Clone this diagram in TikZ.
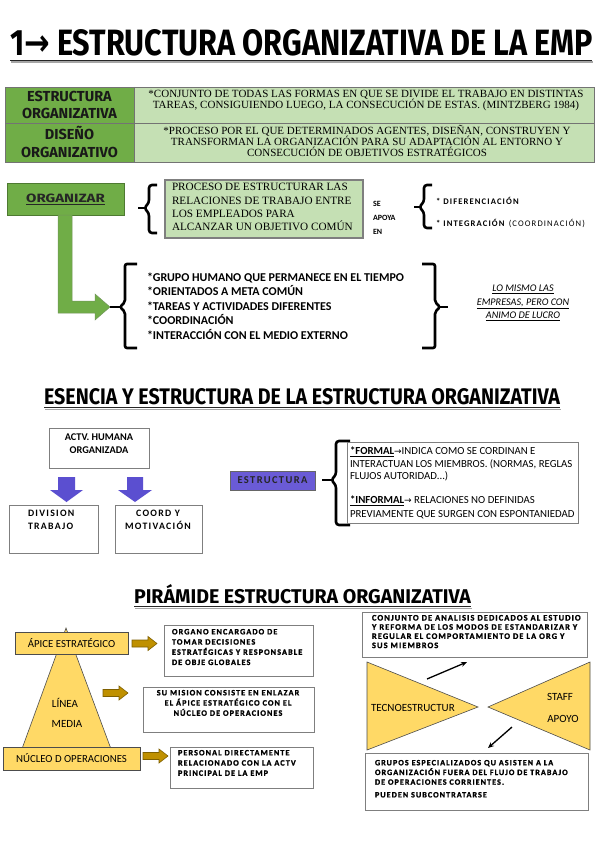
\documentclass[tikz,border=0pt]{standalone}
\usepackage{graphicx}
\usepackage{fontspec}
\setmainfont{Carlito}
\newfontfamily\serifc{Liberation Serif}
\newfontfamily\brush{Fira Sans}
\newfontfamily\dejavu{DejaVu Sans}
\newfontfamily\spaced{Carlito}[LetterSpace=13]
\newfontfamily\heavyf{Carlito}[LetterSpace=13, BoldFeatures={FakeBold=1.4}]
\usetikzlibrary{arrows.meta}
\definecolor{dgreen}{HTML}{70AD47}
\definecolor{dgreenb}{HTML}{4E7A31}
\definecolor{lgreen}{HTML}{C5E0B4}
\definecolor{ypyr}{HTML}{FFD966}
\definecolor{goldar}{HTML}{BF9000}
\definecolor{goldarb}{HTML}{7F6000}
\definecolor{bluear}{HTML}{5B4FD0}
\definecolor{bluebox}{HTML}{6A5BD6}
\definecolor{boxgray}{HTML}{7F7F7F}
\tikzset{
  wbox/.style={draw=boxgray, line width=1pt, fill=white},
  brk/.style={line width=2.6pt, line join=miter},
  ybox/.style={fill=ypyr, draw=black!70, line width=0.6pt, font=\fontsize{10.8}{12}\selectfont},
  ytxt/.style={font=\fontsize{11}{12}\selectfont},
  garrow/.style={fill=goldar, draw=goldarb, line width=0.6pt},
  heavy/.style={font=\heavyf\bfseries\fontsize{8.2}{10.2}\selectfont, align=left},
  ulineb/.style={line width=1.6pt, black!35},
  ulinef/.style={line width=1.6pt, black!85},
  tleft/.style={font=\brush\bfseries\fontsize{14.5}{17.5}\selectfont, align=center, text=black!90},
  tright/.style={font=\serifc\fontsize{11}{11.4}\selectfont, align=center},
}
\begin{document}
\begin{tikzpicture}[x=1pt,y=-1pt, every node/.style={inner sep=0pt, outer sep=0pt}]
\useasboundingbox (0,0) rectangle (599,848);
\fill[white] (0,0) rectangle (599,848);

% ---------- title ----------
\node[anchor=base west] (title) at (10,56) {\resizebox{583pt}{26pt}{\brush\bfseries 1{\dejavu\bfseries →} ESTRUCTURA ORGANIZATIVA DE LA EMP}};
\draw[ulineb] (11,62.3) -- (593,62.3);
\draw[ulinef] (10,60.5) -- (592,60.5);

% ---------- table ----------
\fill[dgreen] (5,87) rectangle (134,162);
\fill[lgreen] (134,87) rectangle (594,162);
\draw[black!55, line width=0.8pt] (5,87) rectangle (594,162) (5,123) -- (594,123) (134,87) -- (134,162);
\node[tleft] (c11) at (69.5,105) {ESTRUCTURA\\ORGANIZATIVA};
\node[tleft] (c21) at (69.5,142) {DISEÑO\\ORGANIZATIVO};
\node[tright] (c12) at (366,100.5) {*CONJUNTO DE TODAS LAS FORMAS EN QUE SE DIVIDE EL TRABAJO EN DISTINTAS\\TAREAS, CONSIGUIENDO LUEGO, LA CONSECUCIÓN DE ESTAS. (MINTZBERG 1984)};
\node[tright] (c22) at (367,141) {*PROCESO POR EL QUE DETERMINADOS AGENTES, DISEÑAN, CONSTRUYEN Y\\TRANSFORMAN LA ORGANIZACIÓN PARA SU ADAPTACIÓN AL ENTORNO Y\\CONSECUCIÓN DE OBJETIVOS ESTRATÉGICOS};

% ---------- organizar ----------
\node[fill=dgreen, draw=dgreenb, line width=0.8pt, minimum width=117pt, minimum height=32pt, text=black!85] (org) at (65.5,199) {\scalebox{1.25}[1]{\brush\bfseries\fontsize{12}{14}\selectfont\underline{ORGANIZAR}}};
\filldraw[fill=dgreen, draw=dgreenb!80, line width=0.5pt] (58,215) -- (72,215) -- (72,301) -- (95,301) -- (95,294) -- (110,307) -- (95,320) -- (95,313) -- (58,313) -- cycle;

\node[fill=lgreen, draw=boxgray, line width=1.2pt, minimum width=198pt, minimum height=58pt] (proc) at (264,209) {};
\node[anchor=west, align=left, font=\serifc\fontsize{11.2}{13.2}\selectfont] (proctxt) at (172,207) {PROCESO DE ESTRUCTURAR LAS\\RELACIONES DE TRABAJO ENTRE\\LOS EMPLEADOS PARA\\ALCANZAR UN OBJETIVO COMÚN};
\draw[brk, rounded corners=3pt] (157,185) -- (149,185) -- (149,203) -- (144,208) -- (149,213) -- (149,233) -- (157,233);
\draw[brk] (145,208) -- (138,208);

\node[anchor=west, align=left, font=\bfseries\fontsize{8}{14}\selectfont] (apoya) at (373,218) {SE\\APOYA\\EN};
\draw[brk, rounded corners=3pt] (432,185) -- (424,185) -- (424,202) -- (419,207) -- (424,212) -- (424,228) -- (432,228);
\draw[brk] (420,207) -- (414,207);
\node[anchor=west, font=\spaced\bfseries\fontsize{8.6}{10}\selectfont] (dif) at (436,201) {* DIFERENCIACIÓN};
\node[anchor=west, font=\spaced\fontsize{8.6}{10}\selectfont] (integ) at (436,223) {\textbf{* INTEGRACIÓN} (COORDINACIÓN)};

% list with brackets
\node[anchor=north west, align=left, font=\bfseries\fontsize{12}{14.5}\selectfont] (list) at (147,272.5) {*GRUPO HUMANO QUE PERMANECE EN EL TIEMPO\\*ORIENTADOS A META COMÚN\\*TAREAS Y ACTIVIDADES DIFERENTES\\*COORDINACIÓN\\*INTERACCIÓN CON EL MEDIO EXTERNO};
\draw[brk, rounded corners=2pt] (137,264) -- (125,264) -- (125,302) -- (120,307) -- (125,312) -- (125,348) -- (137,348);
\draw[brk] (121,307) -- (110,307);
\draw[brk, rounded corners=2pt] (422,264) -- (435,264) -- (435,302) -- (440,307) -- (435,312) -- (435,348) -- (422,348);
\draw[brk] (439,307) -- (448,307);
\node[align=center, font=\itshape\fontsize{10.2}{13.5}\selectfont] (lucro) at (523,303) {\underline{LO MISMO LAS}\\\underline{EMPRESAS, PERO CON}\\\underline{ANIMO DE LUCRO}};

% ---------- section 2 ----------
\node[anchor=base west] (t2) at (44,404) {\resizebox{516pt}{16pt}{\brush\bfseries ESENCIA Y ESTRUCTURA DE LA ESTRUCTURA ORGANIZATIVA}};
\draw[ulineb] (45,409.3) -- (561,409.3);
\draw[ulinef] (44,407.5) -- (560,407.5);

\node[wbox, minimum width=100pt, minimum height=40pt] (actv) at (99,448) {};
\node[align=center, font=\bfseries\fontsize{10.3}{13}\selectfont] (actvt) at (99,443.5) {ACTV. HUMANA\\ORGANIZADA};
\fill[bluear] (58,477) -- (75,477) -- (75,490) -- (83,490) -- (66.5,502) -- (50,490) -- (58,490) -- cycle;
\fill[bluear] (127,477) -- (143,477) -- (143,490) -- (152,490) -- (135,502) -- (118,490) -- (127,490) -- cycle;
\node[wbox, minimum width=89pt, minimum height=48pt] (divb) at (53.5,529) {};
\node[anchor=north west, align=left, font=\spaced\bfseries\fontsize{9.8}{13}\selectfont] (divt) at (28,510) {DIVISION\\TRABAJO};
\node[wbox, minimum width=87pt, minimum height=48pt] (coordb) at (158.5,529) {};
\node[anchor=north, align=center, font=\spaced\bfseries\fontsize{9.8}{13}\selectfont] (coordt) at (158,510) {COORD Y\\MOTIVACIÓN};

\node[fill=bluebox, draw=black!60, line width=0.8pt, minimum width=85pt, minimum height=19pt, font=\spaced\bfseries\fontsize{10.5}{11}\selectfont, text=black!85] (estr) at (272.5,480.5) {ESTRUCTURA};
\draw[brk, rounded corners=3pt] (350,441) -- (336,441) -- (336,475) -- (331,480) -- (336,485) -- (336,525) -- (350,525);
\draw[brk] (332,480) -- (322,480);
\node[wbox, minimum width=231pt, minimum height=81pt] (formal) at (462.5,482.5) {};
\node[anchor=north west, align=left, font=\fontsize{10.8}{12.5}\selectfont] (formalt) at (350,447) {\textbf{\underline{*FORMAL}}{\dejavu\fontsize{9}{9}\selectfont →}INDICA COMO SE CORDINAN E\\INTERACTUAN LOS MIEMBROS. (NORMAS, REGLAS\\FLUJOS AUTORIDAD...)\\[11pt]\textbf{\underline{*INFORMAL}}{\dejavu\fontsize{9}{9}\selectfont →} RELACIONES NO DEFINIDAS\\[1.5pt]PREVIAMENTE QUE SURGEN CON ESPONTANIEDAD};

% ---------- section 3 ----------
\node[anchor=base west] (t3) at (134,603) {\resizebox{337pt}{19pt}{\brush\bfseries PIRÁMIDE ESTRUCTURA ORGANIZATIVA}};
\draw[ulineb] (135,608.3) -- (472,608.3);
\draw[ulinef] (134,606.5) -- (471,606.5);

\filldraw[fill=ypyr, draw=black!70, line width=0.6pt] (66,628) -- (114,757) -- (19,757) -- cycle;
\node[ybox, minimum width=113pt, minimum height=22pt] (apice) at (71.5,643) {ÁPICE ESTRATÉGICO};
\node[ybox, minimum width=137pt, minimum height=23pt] (nucleo) at (71.5,758.5) {NÚCLEO D OPERACIONES};
\node[ytxt] (linea) at (65,703) {LÍNEA};
\node[ytxt] (media) at (67,724) {MEDIA};

\filldraw[garrow] (132,640) -- (148,640) -- (148,636.5) -- (157,643.5) -- (148,650.5) -- (148,647) -- (132,647) -- cycle;
\filldraw[garrow] (103,689.5) -- (119,689.5) -- (119,686) -- (128,693) -- (119,700) -- (119,696.5) -- (103,696.5) -- cycle;
\filldraw[garrow] (143,752.5) -- (159,752.5) -- (159,749) -- (168,756) -- (159,763) -- (159,759.5) -- (143,759.5) -- cycle;

\node[wbox, minimum width=149pt, minimum height=51pt] (box1) at (238.5,650.5) {};
\node[heavy, anchor=north west] (box1t) at (172,629) {ORGANO ENCARGADO DE\\TOMAR DECISIONES\\ESTRATÉGICAS Y RESPONSABLE\\DE OBJE GLOBALES};
\node[wbox, minimum width=171pt, minimum height=45pt] (box2) at (228.5,709.5) {};
\node[heavy, align=center, anchor=north] (box2t) at (228,690) {SU MISION CONSISTE EN ENLAZAR\\EL ÁPICE ESTRATÉGICO CON EL\\NÚCLEO DE OPERACIONES};
\node[wbox, minimum width=143pt, minimum height=41pt] (box3) at (241.5,767.5) {};
\node[heavy, anchor=north west] (box3t) at (178,750) {PERSONAL DIRECTAMENTE\\RELACIONADO CON LA ACTV\\PRINCIPAL DE LA EMP};

% right part
\node[wbox, minimum width=225pt, minimum height=45pt] (tecbox) at (474.5,634.5) {};
\node[heavy, anchor=north west, font=\heavyf\bfseries\fontsize{8.4}{9.2}\selectfont] (tecboxt) at (372,615) {CONJUNTO DE ANALISIS DEDICADOS AL ESTUDIO\\Y REFORMA DE LOS MODOS DE ESTANDARIZAR Y\\REGULAR EL COMPORTAMIENTO DE LA ORG Y\\SUS MIEMBROS};
\filldraw[fill=ypyr, draw=black!70, line width=0.6pt] (367,662) -- (478,707) -- (367,750) -- cycle;
\filldraw[fill=ypyr, draw=black!70, line width=0.6pt] (590,662) -- (488,707) -- (590,750) -- cycle;
\node[anchor=west, ytxt] (tecno) at (371,708) {TECNOESTRUCTUR};
\node[ytxt] (staff) at (560,697) {STAFF};
\node[ytxt] (apoyo) at (563,719) {APOYO};
\coordinate (a1s) at (427,679);
\coordinate (a1e) at (467,662);
\coordinate (a2s) at (512,727);
\coordinate (a2e) at (488,748);
\draw[-{Stealth[length=6pt,width=5pt]}, line width=1.3pt] (a1s) -- (a1e);
\draw[-{Stealth[length=6pt,width=5pt]}, line width=1.3pt] (a2s) -- (a2e);
\node[wbox, minimum width=223pt, minimum height=57pt] (stbox) at (476.5,781.5) {};
\node[heavy, anchor=north west, font=\heavyf\bfseries\fontsize{8.1}{9.7}\selectfont] (stboxt) at (375,760) {GRUPOS ESPECIALIZADOS QU ASISTEN A LA\\ORGANIZACIÓN FUERA DEL FLUJO DE TRABAJO\\DE OPERACIONES CORRIENTES.\\[3pt]PUEDEN SUBCONTRATARSE};
\end{tikzpicture}
\end{document}
